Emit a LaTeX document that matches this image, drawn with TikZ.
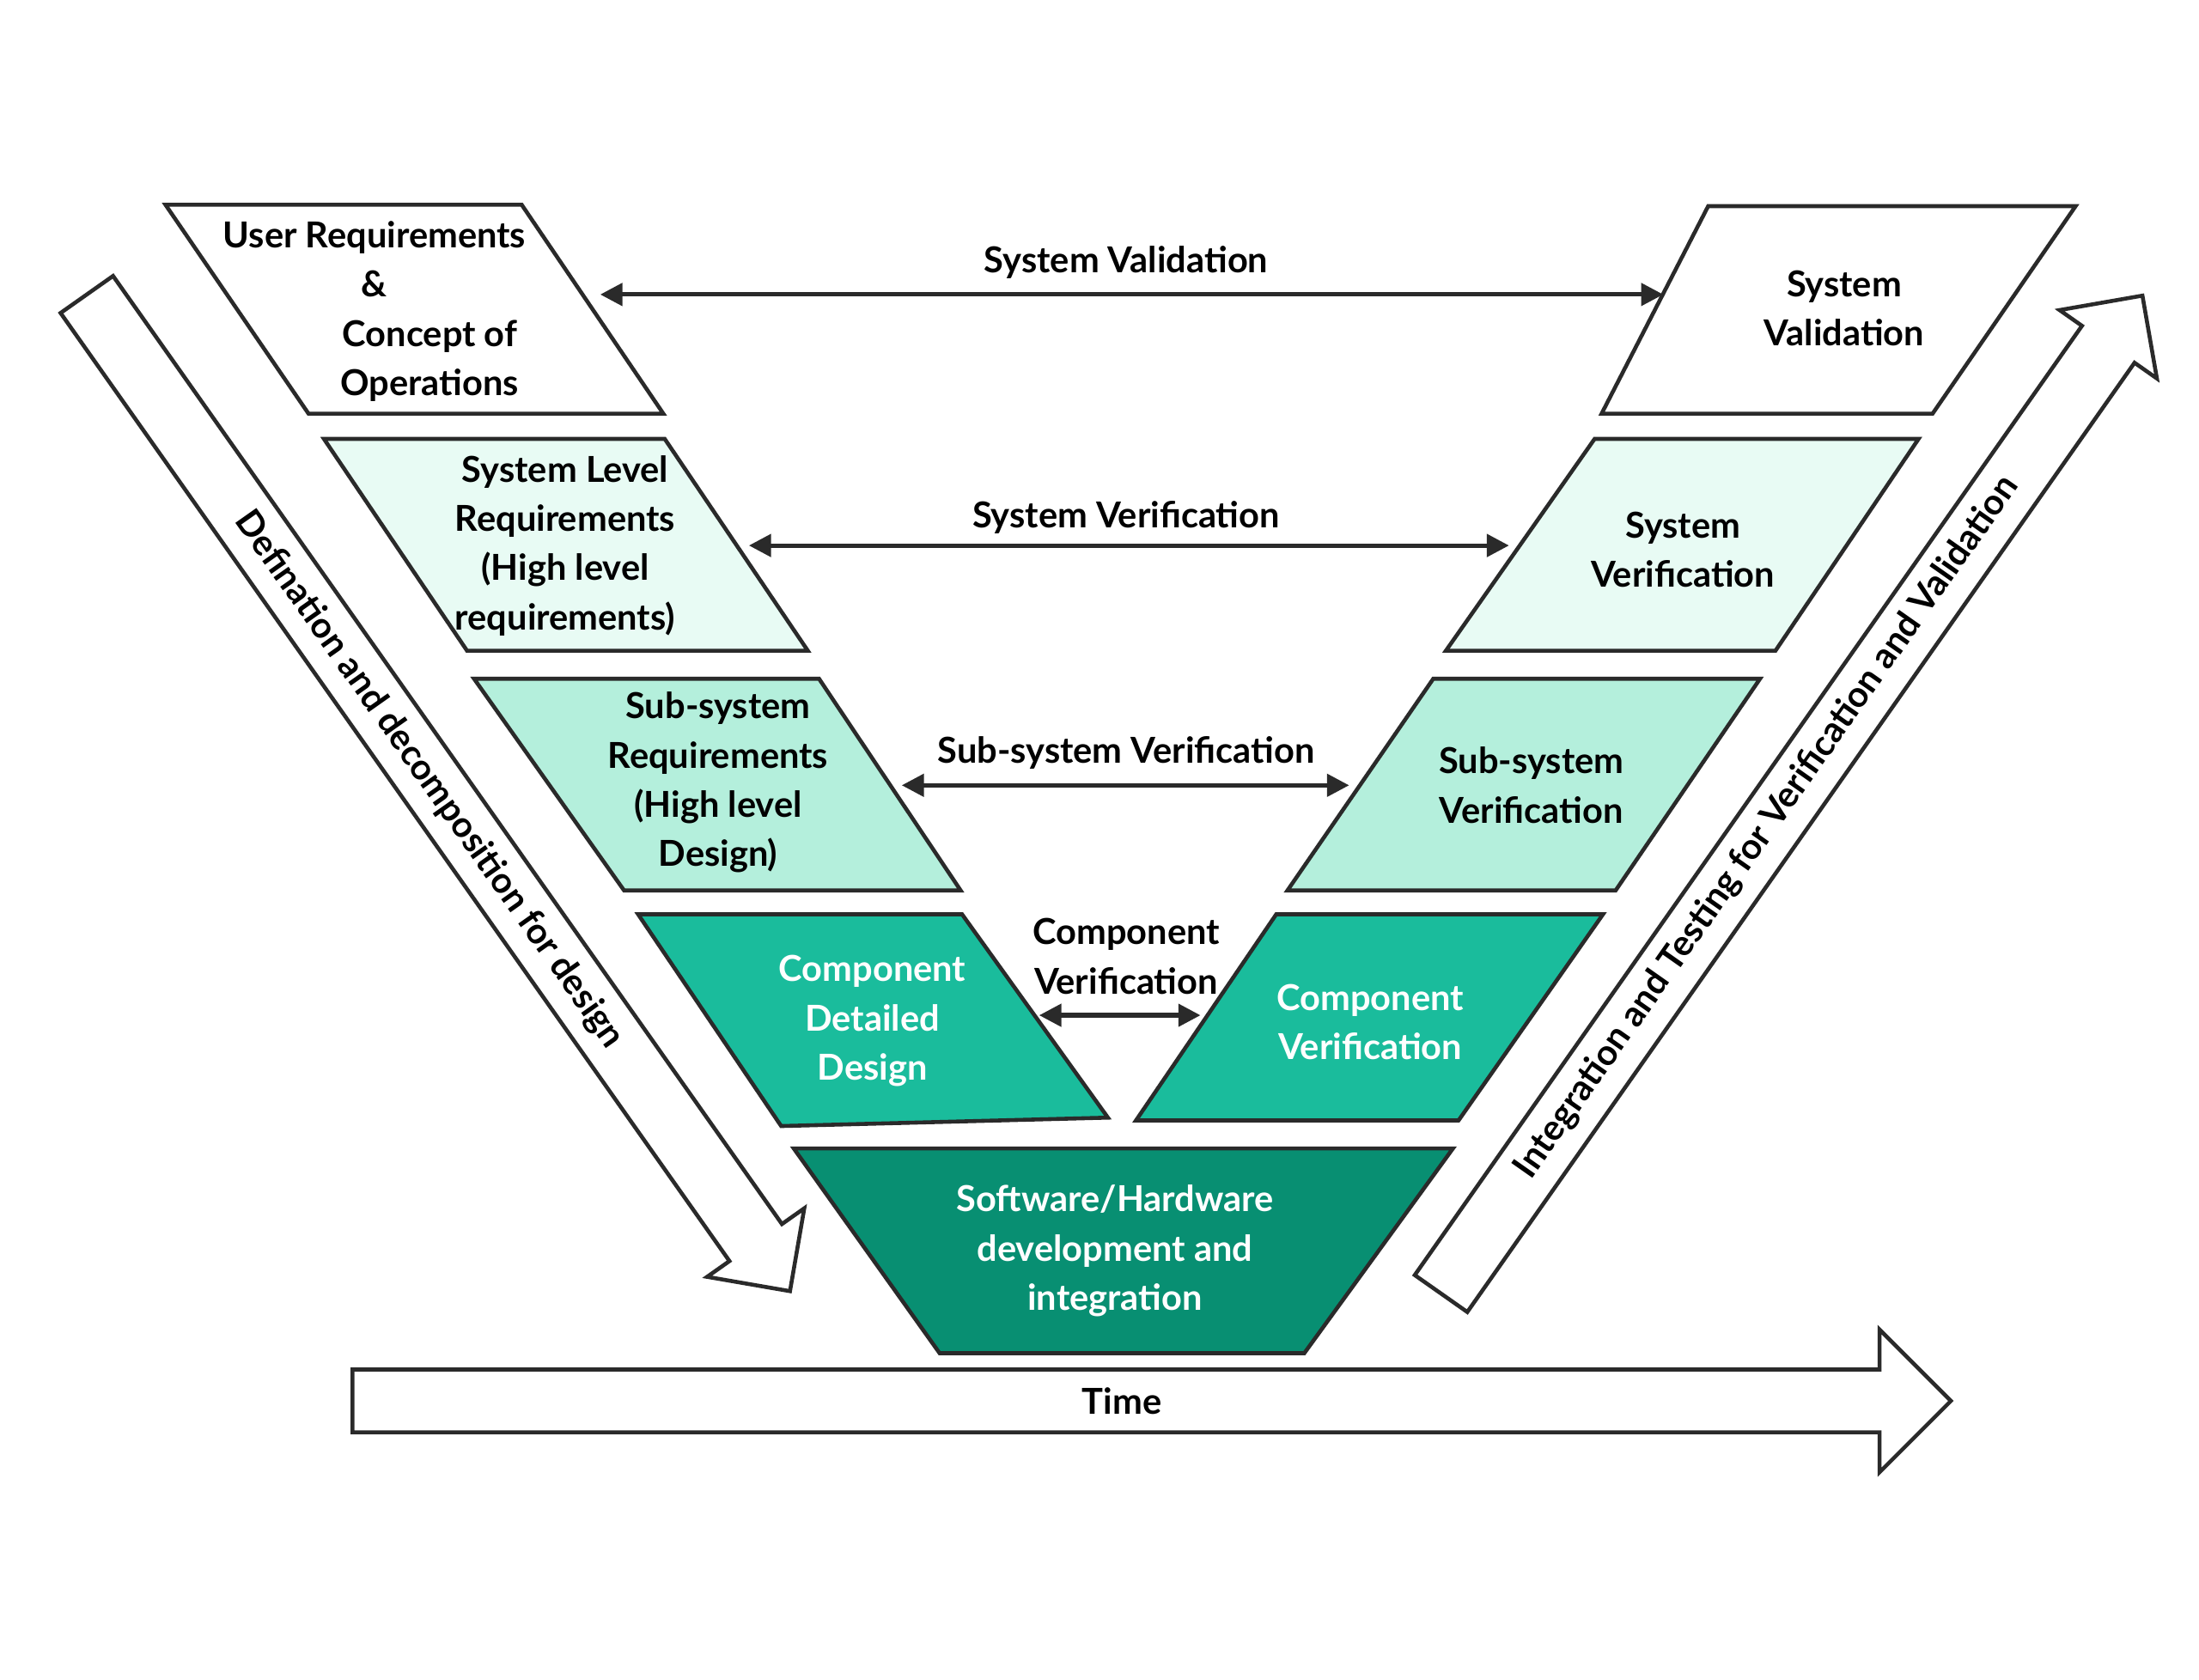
\documentclass[tikz,border=0pt]{standalone}
\usepackage{fontspec}
\setmainfont{Lato}
\usetikzlibrary{shapes.arrows, arrows.meta, positioning}
\definecolor{levelone}{HTML}{FFFFFF}
\definecolor{leveltwo}{HTML}{E8FBF4}
\definecolor{levelthree}{HTML}{B4EFDC}
\definecolor{levelfour}{HTML}{1ABC9C}
\definecolor{levelfive}{HTML}{088F72}
\definecolor{linegray}{HTML}{2A2A2A}

\begin{document}
\begin{tikzpicture}[x=0.02cm, y=-0.02cm,
  phase/.style={draw=linegray, line width=1.6pt, line join=miter},
  lbl/.style={font=\fontsize{14.5}{20}\selectfont\bfseries, align=center},
  link/.style={draw=linegray, line width=1.8pt, {Triangle[length=9pt,width=9pt]}-{Triangle[length=9pt,width=9pt]}},
  bigarrow/.style={draw=linegray, line width=1.6pt, fill=white, single arrow, single arrow head extend=0.39cm, minimum height=#1, minimum width=1.64cm, inner xsep=0pt, inner ysep=0.43cm, anchor=center}]
\useasboundingbox (0,0) rectangle (1568,1198);

% Big side arrows
\node[bigarrow=17.4cm, rotate=-54.8] (down) at (306,556) {};
\node[lbl, rotate=-54.8] (downtext) at (306,556) {Defination and decomposition for design};
\node[bigarrow=17.4cm, rotate=54.9] (up) at (1271,576) {};
\node[lbl, rotate=54.9] (uptext) at (1260,590) {Integration and Testing for Verification and Validation};

% Time arrow
\node[bigarrow=22.8cm, minimum width=1.98cm, inner ysep=0.42cm, single arrow head extend=0.57cm] (time) at (810,999) {};
\node[lbl] (timetext) at (800,999) {Time};

% Left side
\draw[phase, fill=levelone] (118,146) -- (372,146) -- (473,295) -- (220,295) -- cycle;
\draw[phase, fill=leveltwo] (231,313) -- (474,313) -- (576,464) -- (333,464) -- cycle;
\draw[phase, fill=levelthree] (338,484) -- (584,484) -- (685,635) -- (445,635) -- cycle;
\draw[phase, fill=levelfour] (455,652) -- (686,652) -- (790,797) -- (557,803) -- cycle;

% Right side
\draw[phase, fill=levelone] (1218,147) -- (1480,147) -- (1378,295) -- (1142,295) -- cycle;
\draw[phase, fill=leveltwo] (1137,313) -- (1368,313) -- (1266,464) -- (1031,464) -- cycle;
\draw[phase, fill=levelthree] (1022,484) -- (1255,484) -- (1152,635) -- (918,635) -- cycle;
\draw[phase, fill=levelfour] (910,652) -- (1143,652) -- (1040,799) -- (810,799) -- cycle;

% Bottom
\draw[phase, fill=levelfive] (566,819) -- (1036,819) -- (930,965) -- (670,965) -- cycle;

% Texts
\node[lbl] (userreq) at (267,222) {User Requirements\\\&\\\hspace*{3.1em}Concept of\\\hspace*{3.1em}Operations};
\node[lbl] (sysreq) at (403,389) {System Level\\Requirements\\(High level\\requirements)};
\node[lbl] (subreq) at (512,558) {Sub-system\\Requirements\\(High level\\Design)};
\node[lbl, text=white] (compdes) at (622,728) {Component\\Detailed\\Design};
\node[lbl] (sysval) at (1315,220) {System\\Validation};
\node[lbl] (sysver) at (1200,392) {System\\Verification};
\node[lbl] (subver) at (1092,560) {Sub-system\\Verification};
\node[lbl, text=white] (compver) at (977,729) {Component\\Verification};
\node[lbl, text=white] (swhw) at (795,892) {Software/Hardware\\development and\\integration};

% Links across the V
\coordinate (valL) at (428,210); \coordinate (valR) at (1186,210);
\coordinate (verL) at (534,389); \coordinate (verR) at (1076,389);
\coordinate (subL) at (643,560); \coordinate (subR) at (962,560);
\coordinate (cmpL) at (741,724); \coordinate (cmpR) at (856,724);
\draw[link] (valL) -- (valR);
\draw[link] (verL) -- (verR);
\draw[link] (subL) -- (subR);
\draw[link] (cmpL) -- (cmpR);
\node[lbl] (valtext) at (803,187) {System Validation};
\node[lbl] (vertext) at (803,369) {System Verification};
\node[lbl] (subtext) at (803,537) {Sub-system Verification};
\node[lbl] (cmptext) at (803,682) {Component\\Verification};

\end{tikzpicture}
\end{document}
